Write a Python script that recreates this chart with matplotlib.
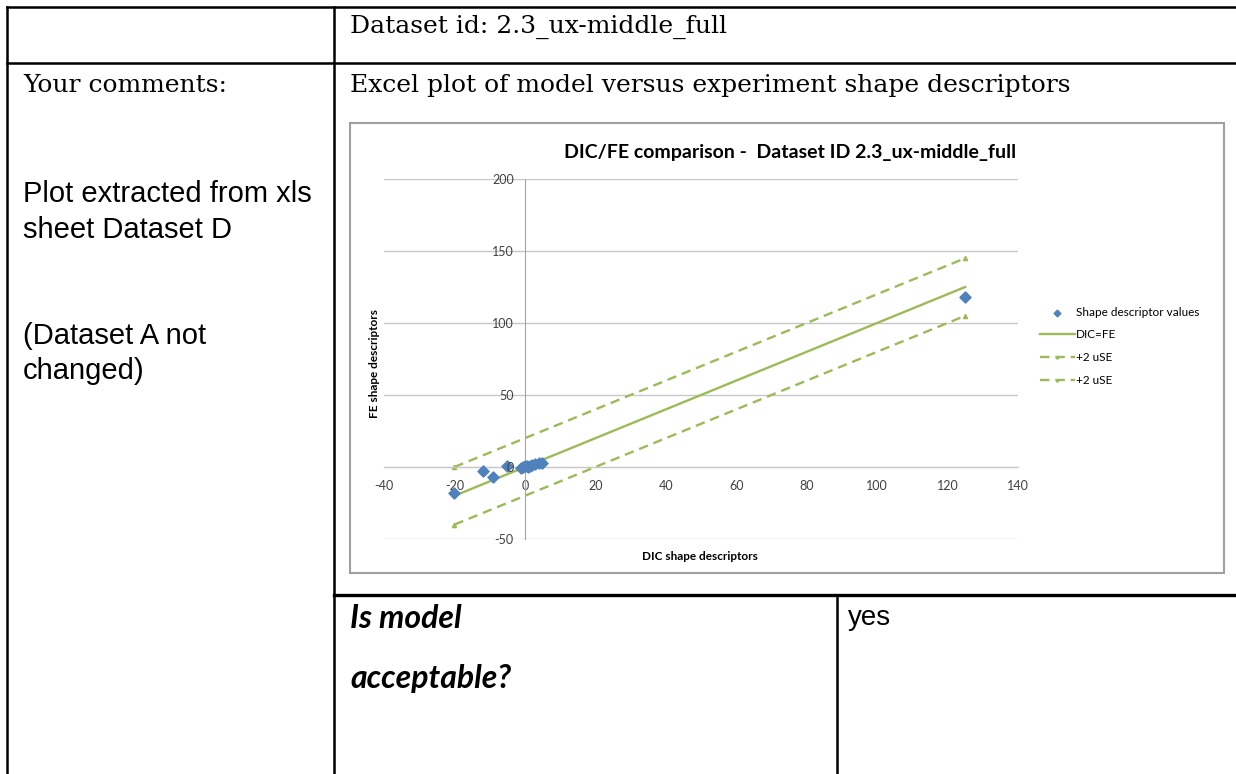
"""Review-sheet table with the embedded Excel-style DIC/FE comparison chart."""
import matplotlib
matplotlib.use("Agg")
import matplotlib.pyplot as plt
from matplotlib.patches import Rectangle

plt.rcParams["axes.unicode_minus"] = False

W, H = 1236, 774

# scatter: DIC vs FE shape descriptors
dic_vals = [-20, -12, -9, -5, -1, -0.5, 0, 0.5, 1, 1.5, 2, 3, 4, 5, 125]
fe_vals = [-18, -3, -7, 0.5, -1, 0, 0.5, 1, 0, 1, 1.5, 2, 2.5, 3, 118]

# reference lines
line_x = [-20, 125]
line_equal = [-20, 125]
line_upper = [0, 145]
line_lower = [-40, 105]

x_ticks = [-40, -20, 0, 20, 40, 60, 80, 100, 120, 140]
y_ticks = [-50, 0, 50, 100, 150, 200]

BLUE = "#4F81BD"
GREEN = "#9BBB59"
GRID = "#C8C8C8"
SANS = ["Liberation Sans", "DejaVu Sans"]
SERIF = ["DejaVu Serif"]
CHART = ["Lato", "DejaVu Sans"]

fig = plt.figure(figsize=(W / 100, H / 100), dpi=100)

# --- table layer in pixel coords ---
tab = fig.add_axes([0, 0, 1, 1])
tab.set_xlim(0, W)
tab.set_ylim(H, 0)
tab.axis("off")

lk = dict(color="black", lw=1.8, solid_capstyle="projecting")
tab.plot([7, W], [7, 7], **lk)
tab.plot([7, 7], [7, H], **lk)
tab.plot([334, 334], [7, H], **lk)
tab.plot([7, W], [63, 63], **lk)
tab.plot([334, W], [595, 595], color="black", lw=2.4)
tab.plot([837, 837], [595, H], **lk)

tab.text(350, 33, "Dataset id: 2.3_ux-middle_full", family=SERIF, fontsize=18,
         va="baseline", ha="left")
tab.text(23, 92, "Your comments:", family=SERIF, fontsize=18, va="baseline")
tab.text(350, 92, "Excel plot of model versus experiment shape descriptors",
         family=SERIF, fontsize=18, va="baseline")
tab.text(23, 202, "Plot extracted from xls", family=SANS, fontsize=21, va="baseline")
tab.text(23, 238, "sheet Dataset D", family=SANS, fontsize=21, va="baseline")
tab.text(23, 344, "(Dataset A not", family=SANS, fontsize=21, va="baseline")
tab.text(23, 379, "changed)", family=SANS, fontsize=21, va="baseline")
tab.text(350, 628, "Is model", family=CHART, fontsize=23, style="italic",
         weight="bold", va="baseline")
tab.text(350, 688, "acceptable?", family=CHART, fontsize=23, style="italic",
         weight="bold", va="baseline")
tab.text(848, 625, "yes", family=SANS, fontsize=20, va="baseline")

# chart frame
tab.add_patch(Rectangle((350, 123), 874, 450, fill=False, edgecolor="#A0A0A0", lw=1.5))
tab.text(790, 158, "DIC/FE comparison -  Dataset ID 2.3_ux-middle_full",
         family=CHART, fontsize=14, weight="bold", ha="center", va="baseline")
tab.text(374, 363, "FE shape descriptors", family=CHART, fontsize=8.5, weight="bold",
         rotation=90, ha="center", va="center")
tab.text(700, 556, "DIC shape descriptors", family=CHART, fontsize=8.5, weight="bold",
         ha="center", va="center")

# --- chart plot area ---
px0, px1, py0, py1 = 384, 1018, 179, 539
ax = fig.add_axes([px0 / W, 1 - py1 / H, (px1 - px0) / W, (py1 - py0) / H])
ax.patch.set_alpha(0)
ax.set_xlim(-40, 140)
ax.set_ylim(-50, 200)
ax.set_xticks(x_ticks)
ax.set_yticks(y_ticks)
for yv in y_ticks:
    ax.axhline(yv, color=GRID, lw=1, zorder=1)
for s in ("top", "right"):
    ax.spines[s].set_visible(False)
ax.spines["left"].set_position(("data", 0))
ax.spines["bottom"].set_position(("data", 0))
ax.spines["left"].set_color("#A6A6A6")
ax.spines["bottom"].set_color(GRID)
ax.tick_params(length=0, labelsize=9, colors="#404040")
ax.tick_params(axis="x", pad=9)
ax.tick_params(axis="y", pad=8)
ax.yaxis.set_zorder(4)
for lab in ax.get_xticklabels() + ax.get_yticklabels():
    lab.set_family(CHART)

ax.plot(line_x, line_equal, color=GREEN, lw=1.7, label="DIC=FE", zorder=2)
ax.plot(line_x, line_upper, color=GREEN, lw=1.7, ls=(0, (4, 2.5)), marker="^",
        ms=3, label="+2 uSE", zorder=2)
ax.plot(line_x, line_lower, color=GREEN, lw=1.7, ls=(0, (4, 2.5)), marker="^",
        ms=3, label="+2 uSE", zorder=2)
ax.scatter(dic_vals, fe_vals, marker="D", s=32, color=BLUE,
           label="Shape descriptor values", zorder=3, clip_on=False)

handles, labels = ax.get_legend_handles_labels()
order = [3, 0, 1, 2]
ax.legend([handles[i] for i in order], [labels[i] for i in order],
          loc="upper left", bbox_to_anchor=(1029 / W, 1 - 296 / H),
          bbox_transform=fig.transFigure, frameon=False,
          prop={"family": CHART, "size": 8.5}, labelspacing=1.0,
          handlelength=3.0, handletextpad=0.1, markerscale=0.6)

fig.savefig("out.png", dpi=100)
